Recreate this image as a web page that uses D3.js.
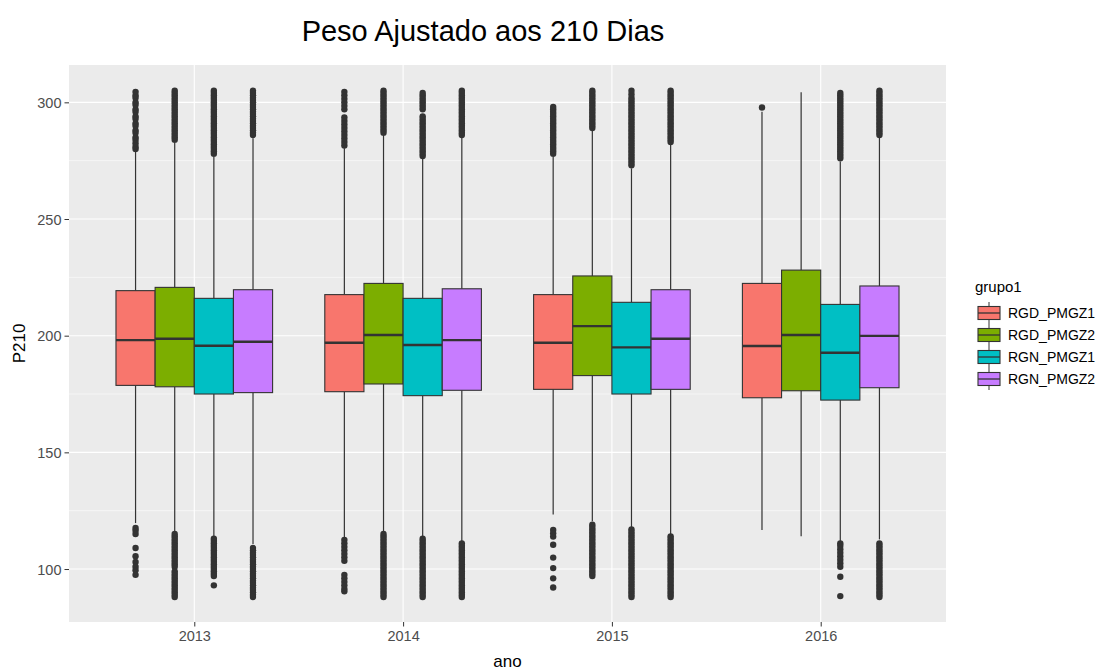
<!DOCTYPE html>
<meta charset="utf-8">
<title>Peso Ajustado aos 210 Dias</title>
<style>
  body { margin: 0; background: #fff; }
  svg { display: block; font-family: "Liberation Sans", Arial, sans-serif; }
  .grid-major { stroke: #fff; stroke-width: 1.1; }
  .grid-minor { stroke: #fff; stroke-width: 0.55; }
  .tick line { stroke: #333; }
  .tick text { fill: #4d4d4d; font-size: 14.5px; }
  .whisker { stroke: #333; stroke-width: 1.2; }
  .box { stroke: #333; stroke-width: 1.1; }
  .median { stroke: #333; stroke-width: 2.4; }
  .outlier { fill: #333; }
</style>
<body>
<script src="https://cdn.jsdelivr.net/npm/d3@7"></script>
<script>
  const years = ["2013", "2014", "2015", "2016"];
  const groups = ["RGD_PMGZ1", "RGD_PMGZ2", "RGN_PMGZ1", "RGN_PMGZ2"];
  const colors = ["#F8766D", "#7CAE00", "#00BFC4", "#C77CFF"];
  const yTicks = [100, 150, 200, 250, 300];
  const yMinor = [125, 175, 225, 275];

  // rows = year, columns = group
  const lowerWhisker = [
    [119.7, 116, 114, 110.7],
    [113.6, 115.6, 113.9, 111.7],
    [123.4, 120.5, 118, 115],
    [116.7, 114.1, 111.7, 112.7]
  ];
  const q1 = [
    [178.7, 178.1, 175, 175.6],
    [176, 179.3, 174.3, 176.6],
    [177, 182.9, 175, 177],
    [173.4, 176.4, 172.4, 177.7]
  ];
  const median = [
    [198.1, 198.7, 195.7, 197.4],
    [197, 200.3, 196, 198.1],
    [197, 204.1, 195, 198.7],
    [195.6, 200.3, 192.7, 199.9]
  ];
  const q3 = [
    [219.3, 220.7, 216, 219.7],
    [217.6, 222.4, 216, 220.1],
    [217.6, 225.6, 214.3, 219.7],
    [222.4, 228.1, 213.4, 221.3]
  ];
  const upperWhisker = [
    [279, 283, 277, 284.6],
    [280.3, 286, 276.4, 285],
    [277.4, 287.9, 271.7, 282],
    [296, 304.3, 274.6, 285]
  ];

  // outliers above / below the whiskers, per year, per group
  const hi2013 = [
    [280, 281, 282.5, 284, 285, 287, 288, 290, 291, 293, 294, 296, 297, 299, 300, 302, 303, 304.5],
    [284, 285, 286, 287, 288, 289, 290, 291, 292, 293, 294, 295, 296, 297, 298, 299, 300, 301, 302, 303, 304, 305],
    [278, 279, 280, 281, 282, 283, 284, 285, 286, 287, 288, 289, 290, 291, 292, 293, 294, 295, 296, 297, 298, 299, 300, 301, 302, 303, 304, 305],
    [286, 287, 288, 289, 290, 291, 292, 293, 294, 295, 296, 297, 298, 299, 300, 301, 302, 303, 304, 305]
  ];
  const lo2013 = [
    [117.6, 116.5, 115, 109, 105.5, 103, 101, 99.5, 97.5],
    [115, 114, 113, 112, 111, 110, 109, 108, 107, 106, 105, 104, 103, 102, 101, 99, 98, 97, 96, 95, 94, 93, 92, 91, 90, 89, 88],
    [113, 112, 111, 110, 109, 108, 107, 106, 105, 104, 103, 102, 101, 100, 99, 98, 97, 93],
    [109, 108, 107, 106, 105, 104, 103, 102, 101, 100, 99, 98, 97, 96, 95, 94, 93, 92, 91, 90, 89, 88]
  ];
  const hi2014 = [
    [281.5, 283, 284.5, 286, 287.5, 289, 290.5, 292, 293.5, 297, 298.5, 300, 301.5, 303, 304.5],
    [287, 288, 289, 290, 291, 292, 293, 294, 295, 296, 297, 298, 299, 300, 301, 302, 303, 304, 305],
    [277, 278, 279, 280, 281, 282, 283, 284, 285, 286, 287, 288, 289, 290, 291, 292, 293, 294, 297, 298, 299, 300, 301, 302, 303, 304],
    [286, 287, 288, 289, 290, 291, 292, 293, 294, 295, 296, 297, 298, 299, 300, 301, 302, 303, 304, 305]
  ];
  const lo2014 = [
    [112.5, 111, 109.5, 108, 106.5, 105, 103.5, 97.5, 96, 94.5, 93, 91.5, 90.5],
    [115, 114, 113, 112, 111, 110, 109, 108, 107, 106, 105, 104, 103, 102, 101, 100, 99, 98, 97, 96, 95, 94, 93, 92, 91, 90, 89, 88],
    [113, 112, 111, 110, 109, 108, 107, 106, 105, 104, 103, 102, 101, 100, 99, 98, 97, 96, 95, 94, 93, 92, 91, 90, 89, 88],
    [111, 110, 109, 108, 107, 106, 105, 104, 103, 102, 101, 100, 99, 98, 97, 96, 95, 94, 93, 92, 91, 90, 89, 88]
  ];
  const hi2015 = [
    [278, 279, 280, 281, 282, 283, 284, 285, 286, 287, 288, 289, 290, 291, 292, 293, 294, 295, 296, 297, 298],
    [289, 290, 291, 292, 293, 294, 295, 296, 297, 298, 299, 300, 301, 302, 303, 304, 305],
    [273, 274, 275, 276, 277, 278, 279, 280, 281, 282, 283, 284, 285, 286, 287, 288, 289, 290, 291, 292, 293, 294, 295, 296, 297, 298, 299, 300, 301, 302, 303.5, 305],
    [283, 284, 285, 286, 287, 288, 289, 290, 291, 292, 293, 294, 295, 296, 297, 298, 299, 300, 301, 302, 303, 304, 305]
  ];
  const lo2015 = [
    [116.7, 115.3, 113.9, 110.4, 104.9, 100.4, 96, 92.1],
    [119, 118, 117, 116, 115, 114, 113, 112, 111, 110, 109, 108, 107, 106, 105, 104, 103, 102, 101, 100, 99, 98, 97],
    [117, 116, 115, 114, 113, 112, 111, 110, 109, 108, 107, 106, 105, 104, 103, 102, 101, 100, 99, 98, 97, 96, 95, 94, 93, 92, 91, 90, 89, 88],
    [114, 113, 112, 111, 110, 109, 108, 107, 106, 105, 104, 103, 102, 101, 100, 99, 98, 97, 96, 95, 94, 93, 92, 91, 90, 89, 88]
  ];
  const hi2016 = [
    [297.8],
    [],
    [276, 277, 278, 279, 280, 281, 282, 283, 284, 285, 286, 287, 288, 289, 290, 291, 292, 293, 294, 295, 296, 297, 298, 299, 300, 301, 302, 303, 304],
    [286, 287, 288, 289, 290, 291, 292, 293, 294, 295, 296, 297, 298, 299, 300, 301, 302, 303, 304, 305]
  ];
  const lo2016 = [
    [],
    [],
    [111, 110, 108.5, 107, 105.5, 104, 102.5, 101, 96.7, 88.4],
    [111, 110, 109, 108, 107, 106, 105, 104, 103, 102, 101, 100, 99, 98, 97, 96, 95, 94, 93, 92, 91, 90, 89, 88]
  ];
  const outliersHigh = [hi2013, hi2014, hi2015, hi2016];
  const outliersLow = [lo2013, lo2014, lo2015, lo2016];

  const width = 1108, height = 671;
  const panel = { left: 69, right: 946, top: 65, bottom: 622 };

  const svg = d3.select("body").append("svg")
    .attr("width", width)
    .attr("height", height);

  svg.append("rect").attr("width", width).attr("height", height).attr("fill", "#fff");

  const x = d3.scalePoint().domain(years)
    .range([panel.left, panel.right]).padding(0.6);
  const dodge = d3.scaleBand().domain(groups)
    .range([-0.375 * x.step(), 0.375 * x.step()]);
  const y = d3.scaleLinear().domain([77.3, 316])
    .range([panel.bottom, panel.top]);

  // panel + grid
  svg.append("rect")
    .attr("x", panel.left).attr("y", panel.top)
    .attr("width", panel.right - panel.left)
    .attr("height", panel.bottom - panel.top)
    .attr("fill", "#EBEBEB");

  svg.append("g").selectAll("line").data(yMinor).enter().append("line")
    .attr("class", "grid-minor")
    .attr("x1", panel.left).attr("x2", panel.right)
    .attr("y1", d => y(d)).attr("y2", d => y(d));
  svg.append("g").selectAll("line").data(yTicks).enter().append("line")
    .attr("class", "grid-major")
    .attr("x1", panel.left).attr("x2", panel.right)
    .attr("y1", d => y(d)).attr("y2", d => y(d));
  svg.append("g").selectAll("line").data(years).enter().append("line")
    .attr("class", "grid-major")
    .attr("y1", panel.top).attr("y2", panel.bottom)
    .attr("x1", d => x(d)).attr("x2", d => x(d));

  // axes
  const yAxis = svg.append("g")
    .attr("transform", `translate(${panel.left},0)`)
    .call(d3.axisLeft(y).tickValues(yTicks).tickSize(4.5).tickPadding(3));
  const xAxis = svg.append("g")
    .attr("transform", `translate(0,${panel.bottom})`)
    .call(d3.axisBottom(x).tickSize(4.5).tickPadding(4));
  [xAxis, yAxis].forEach(a => {
    a.select(".domain").remove();
    a.attr("font-family", null).attr("font-size", null);
  });
  yAxis.selectAll(".tick text").attr("dy", "0.36em");

  // boxes
  const boxes = [];
  years.forEach((yr, i) => {
    groups.forEach((g, j) => {
      boxes.push({
        year: yr, group: g, color: colors[j],
        lw: lowerWhisker[i][j], q1: q1[i][j], med: median[i][j],
        q3: q3[i][j], uw: upperWhisker[i][j],
        hi: outliersHigh[i][j], lo: outliersLow[i][j]
      });
    });
  });

  const bw = dodge.bandwidth();
  const cx = d => x(d.year) + dodge(d.group) + bw / 2;

  const bg = svg.append("g").selectAll("g").data(boxes).enter().append("g");

  bg.selectAll("circle")
    .data(d => d.hi.concat(d.lo).map(v => ({ v: v, cx: cx(d) })))
    .enter().append("circle")
    .attr("class", "outlier")
    .attr("cx", d => d.cx)
    .attr("cy", d => y(d.v))
    .attr("r", 3.2);

  bg.append("line").attr("class", "whisker")
    .attr("x1", cx).attr("x2", cx)
    .attr("y1", d => y(d.q3)).attr("y2", d => y(d.uw));
  bg.append("line").attr("class", "whisker")
    .attr("x1", cx).attr("x2", cx)
    .attr("y1", d => y(d.q1)).attr("y2", d => y(d.lw));

  bg.append("rect").attr("class", "box")
    .attr("x", d => x(d.year) + dodge(d.group))
    .attr("width", bw)
    .attr("y", d => y(d.q3))
    .attr("height", d => y(d.q1) - y(d.q3))
    .attr("fill", d => d.color);

  bg.append("line").attr("class", "median")
    .attr("x1", d => x(d.year) + dodge(d.group))
    .attr("x2", d => x(d.year) + dodge(d.group) + bw)
    .attr("y1", d => y(d.med)).attr("y2", d => y(d.med));

  // titles
  svg.append("text")
    .attr("x", 483).attr("y", 41)
    .attr("text-anchor", "middle")
    .style("font-size", "29px")
    .style("fill", "#000")
    .text("Peso Ajustado aos 210 Dias");

  svg.append("text")
    .attr("x", (panel.left + panel.right) / 2).attr("y", 667)
    .attr("text-anchor", "middle")
    .style("font-size", "17px")
    .text("ano");

  svg.append("text")
    .attr("transform", `translate(25,${(panel.top + panel.bottom) / 2}) rotate(-90)`)
    .attr("text-anchor", "middle")
    .style("font-size", "17px")
    .text("P210");

  // legend
  const legend = svg.append("g").attr("transform", "translate(975,0)");
  legend.append("text")
    .attr("x", 0).attr("y", 292)
    .style("font-size", "15px")
    .text("grupo1");

  const items = legend.selectAll("g.item").data(groups).enter().append("g")
    .attr("class", "item")
    .attr("transform", (d, i) => `translate(0,${313 + i * 22})`);
  items.append("line").attr("class", "whisker")
    .attr("x1", 14).attr("x2", 14).attr("y1", -11).attr("y2", 11)
    .style("stroke-width", 1);
  items.append("rect").attr("class", "box")
    .attr("x", 3).attr("y", -6.5).attr("width", 22).attr("height", 13)
    .attr("fill", (d, i) => colors[i]);
  items.append("line")
    .attr("x1", 3).attr("x2", 25).attr("y1", 0).attr("y2", 0)
    .style("stroke", "#333").style("stroke-width", 1.3);
  items.append("text")
    .attr("x", 33).attr("y", 0).attr("dy", "0.36em")
    .style("font-size", "14px")
    .style("fill", "#000")
    .text(d => d);
</script>
